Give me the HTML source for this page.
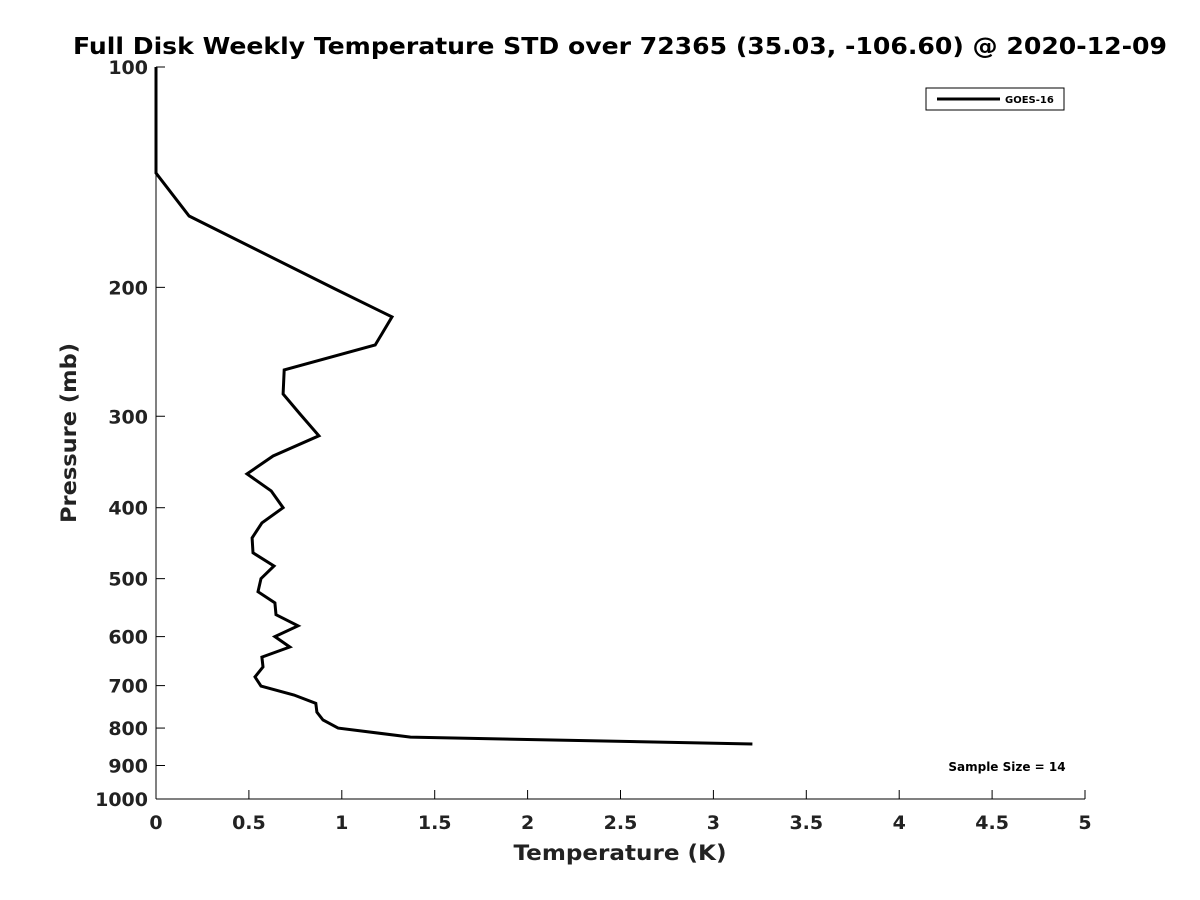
<!DOCTYPE html>
<html><head><meta charset="utf-8"><style>body{margin:0;background:#fff}svg{display:block;font-family:"DejaVu Sans","Liberation Sans",sans-serif}</style></head>
<body>
<svg id="chart" width="1200" height="900" viewBox="0 0 1200 900">
<rect width="1200" height="900" fill="#fff"/>
<text x="620" y="54" text-anchor="middle" font-size="23" font-weight="bold" fill="#000" textLength="1094" lengthAdjust="spacingAndGlyphs">Full Disk Weekly Temperature STD over 72365 (35.03, -106.60) @ 2020-12-09</text>
<g id="axes"></g>
<g id="series"></g>
<text x="620" y="860" text-anchor="middle" font-size="21" font-weight="bold" fill="#222" textLength="213" lengthAdjust="spacingAndGlyphs">Temperature (K)</text>
<text transform="translate(76,433) rotate(-90)" text-anchor="middle" font-size="21" font-weight="bold" fill="#222" textLength="180" lengthAdjust="spacingAndGlyphs">Pressure (mb)</text>
<g>
<rect x="926" y="88" width="138" height="22" fill="#fff" stroke="#000" stroke-width="1"/>
<line x1="937" y1="99" x2="1000" y2="99" stroke="#000" stroke-width="3"/>
<text x="1005" y="103" font-size="10" font-weight="bold">GOES-16</text>
</g>
<text x="1007" y="771" text-anchor="middle" font-size="12" font-weight="bold">Sample Size = 14</text>
</svg>
<script>
const xTicks=[0,0.5,1,1.5,2,2.5,3,3.5,4,4.5,5];
const xTickLabels=["0","0.5","1","1.5","2","2.5","3","3.5","4","4.5","5"];
const yTicks=[100,200,300,400,500,600,700,800,900,1000];
const yTickLabels=["100","200","300","400","500","600","700","800","900","1000"];
const stdValues=[0,0,0.178,0.963,1.27,1.18,0.69,0.684,0.775,0.877,0.63,0.49,0.62,0.684,0.57,0.517,0.522,0.635,0.565,0.549,0.64,0.646,0.764,0.64,0.72,0.57,0.576,0.533,0.565,0.743,0.86,0.866,0.899,0.98,1.37,3.21];
const pressures=[100,139.6,159.8,201,219.5,239.8,259.3,279.7,297.9,319,340,359.6,379.4,400,419.6,439.8,461,480.5,500,521,539.6,560,580,600,620,640,660,681,701,721,740,761,780,800,823,841];
const L=156,R=1085,T=67,B=799;
const xs=v=>L+(v-0)/(5-0)*(R-L);
const ys=p=>T+(Math.log10(p)-2)/(3-2)*(B-T);
const NS="http://www.w3.org/2000/svg";
function mk(t,a,p){const e=document.createElementNS(NS,t);for(const k in a)e.setAttribute(k,a[k]);p.appendChild(e);return e;}
const ax=document.getElementById('axes');
let e=mk('line',{x1:L,y1:B,x2:R,y2:B,stroke:'#000','stroke-width':1},ax);


e=mk('line',{x1:L,y1:T,x2:L,y2:B,stroke:'#000','stroke-width':1},ax);


xTicks.forEach((v,i)=>{
 const x=xs(v);
 let t=mk('line',{x1:x,y1:B,x2:x,y2:B-9,stroke:'#000'},ax);
 
 
 let s=mk('text',{x:x,y:B+30,'text-anchor':'middle','font-size':19,'font-weight':'bold',fill:'#222'},ax);
 s.textContent=xTickLabels[i];
 
 
});
yTicks.forEach((p,i)=>{
 const y=ys(p);
 let t=mk('line',{x1:L,y1:y,x2:L+9,y2:y,stroke:'#000'},ax);
 
 
 let s=mk('text',{x:L-8,y:y+7,'text-anchor':'end','font-size':19,'font-weight':'bold',fill:'#222'},ax);
 s.textContent=yTickLabels[i];
 
 
});
const pts=stdValues.map((v,i)=>xs(v).toFixed(1)+','+ys(pressures[i]).toFixed(1)).join(' ');
const ln=mk('polyline',{points:pts,fill:'none',stroke:'#000','stroke-width':3,'stroke-linejoin':'miter'},document.getElementById('series'));


</script>
</body></html>
